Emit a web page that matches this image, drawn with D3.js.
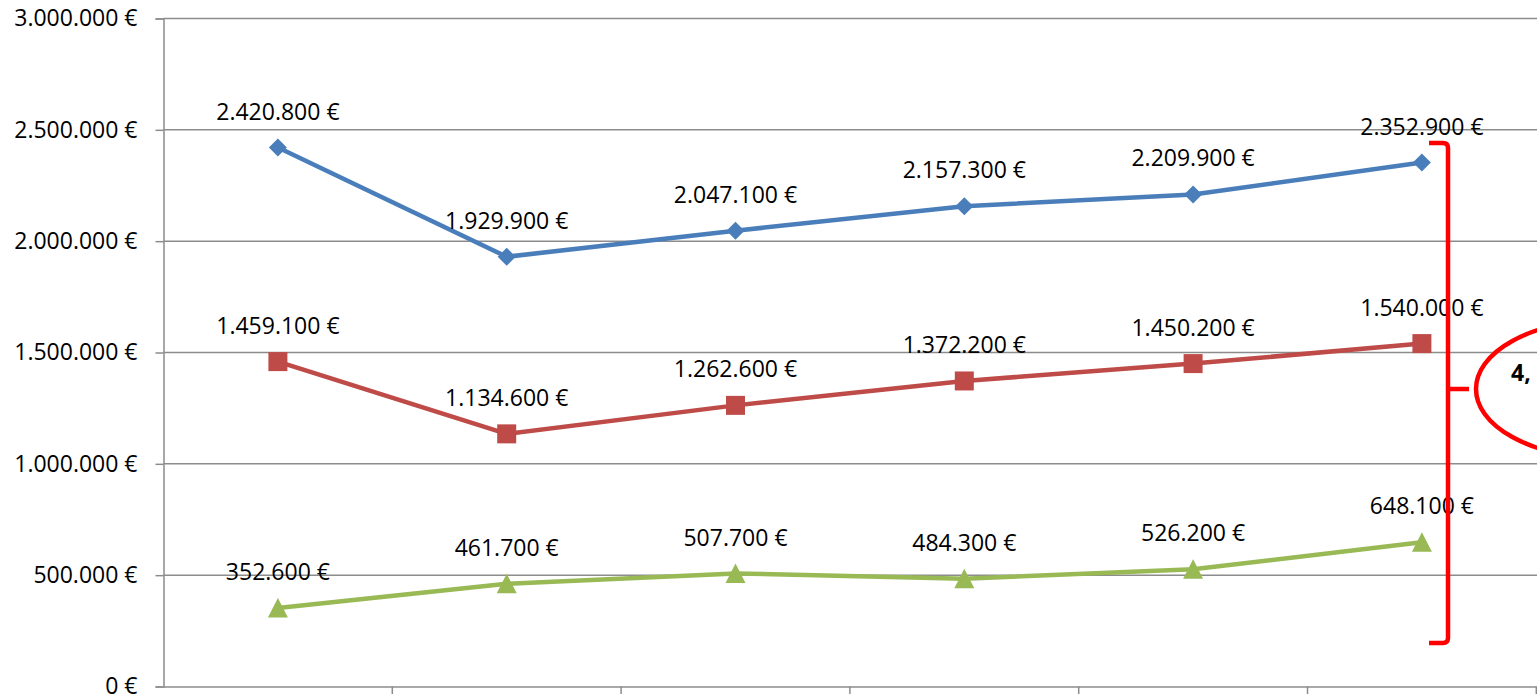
<!DOCTYPE html>
<html lang="de">
<head>
    <meta charset="UTF-8">
    <title>Umsatzentwicklung</title>
    <script src="https://d3js.org/d3.v7.min.js"></script>
    <style>
        body { margin: 0; background: #fff; overflow: hidden; }
        text { font-family: "Open Sans", sans-serif; }
    </style>
</head>
<body>
    <svg id="chart" width="1537" height="694"></svg>
    <script>
        // data
        var categories = ["1", "2", "3", "4", "5", "6"];
        var blueValues  = [2420800, 1929900, 2047100, 2157300, 2209900, 2352900];
        var redValues   = [1459100, 1134600, 1262600, 1372200, 1450200, 1540000];
        var greenValues = [352600, 461700, 507700, 484300, 526200, 648100];
        var yTicks = [0, 500000, 1000000, 1500000, 2000000, 2500000, 3000000];
        var calloutText = "4,";

        var series = [
            { name: "blue",  values: blueValues,  color: "#4A7EBB", marker: "diamond" },
            { name: "red",   values: redValues,   color: "#BE4B48", marker: "square" },
            { name: "green", values: greenValues, color: "#98B954", marker: "triangle" }
        ];

        var de = d3.formatLocale({ decimal: ",", thousands: ".", grouping: [3], currency: ["", " €"] });
        var fmt = function(v) { return de.format(",.0f")(v) + " €"; };

        var svg = d3.select("#chart");

        var x = d3.scaleBand()
            .domain(categories)
            .range([163.5, 1536.3]);

        var y = d3.scaleLinear()
            .domain([0, 3000000])
            .range([686.5, 18.5]);

        var gridColor = "#8C8C8C";

        // horizontal gridlines
        svg.append("g")
            .selectAll("line")
            .data(yTicks.slice(1))
            .enter().append("line")
            .attr("x1", 163.5)
            .attr("x2", 1537)
            .attr("y1", d => y(d))
            .attr("y2", d => y(d))
            .attr("stroke", gridColor)
            .attr("stroke-width", 1.5);

        // y axis
        var yAxis = d3.axisLeft(y)
            .tickValues(yTicks)
            .tickFormat(fmt)
            .tickSize(8)
            .tickPadding(18);
        var gy = svg.append("g")
            .attr("transform", "translate(163.5,0)")
            .call(yAxis);
        gy.select(".domain").attr("stroke", gridColor).attr("stroke-width", 1.5);
        gy.selectAll(".tick line").attr("stroke", gridColor).attr("stroke-width", 1.5);
        gy.selectAll(".tick text")
            .attr("fill", "#000")
            .style("font-size", "23px")
            .style("font-family", "'Open Sans', sans-serif");

        // x axis (labels fall outside the picture)
        var xAxis = d3.axisBottom(x)
            .tickSize(0)
            .tickFormat("");
        var gx = svg.append("g")
            .attr("transform", "translate(0," + y(0) + ")")
            .call(xAxis);
        gx.select(".domain").attr("stroke", gridColor).attr("stroke-width", 1.5);
        gx.selectAll(".tick").remove();
        gx.selectAll("line.sep")
            .data(categories)
            .enter().append("line")
            .attr("class", "sep")
            .attr("x1", d => x(d) + x.bandwidth())
            .attr("x2", d => x(d) + x.bandwidth())
            .attr("y1", 0)
            .attr("y2", 8)
            .attr("stroke", gridColor)
            .attr("stroke-width", 1.5);

        var cx = d => x(d) + x.bandwidth() / 2;

        var line = d3.line()
            .x((d, i) => cx(categories[i]))
            .y(d => y(d));

        series.forEach(function(s) {
            svg.append("path")
                .datum(s.values)
                .attr("d", line)
                .attr("fill", "none")
                .attr("stroke", s.color)
                .attr("stroke-width", 4.5)
                .attr("stroke-linejoin", "round");

            var markerPath;
            if (s.marker === "diamond") markerPath = "M0,-9L9,0L0,9L-9,0Z";
            else if (s.marker === "square") markerPath = "M-9.5,-9.5H9.5V9.5H-9.5Z";
            else markerPath = "M0,-10L10,9.5H-10Z";

            svg.append("g")
                .selectAll("path")
                .data(s.values)
                .enter().append("path")
                .attr("transform", (d, i) => "translate(" + cx(categories[i]) + "," + y(d) + ")")
                .attr("d", markerPath)
                .attr("fill", s.color);
        });

        // data labels
        series.forEach(function(s) {
            svg.append("g")
                .selectAll("text")
                .data(s.values)
                .enter().append("text")
                .attr("x", (d, i) => cx(categories[i]))
                .attr("y", d => y(d) - 36)
                .attr("dy", "0.35em")
                .attr("text-anchor", "middle")
                .style("font-size", "23px")
                .attr("fill", "#000")
                .text(d => fmt(d));
        });

        // red bracket and callout
        var bx = 1448;
        var bTop = 143, bBot = 643, bMid = 389;
        svg.append("path")
            .attr("d", "M1429," + bTop + "H" + (bx - 5) + "Q" + bx + "," + bTop + " " + bx + "," + (bTop + 5) +
                "V" + (bBot - 5) + "Q" + bx + "," + bBot + " " + (bx - 5) + "," + bBot + "H1429" +
                "M" + bx + "," + bMid + "H1469")
            .attr("fill", "none")
            .attr("stroke", "#FF0000")
            .attr("stroke-width", 4.5);

        svg.append("ellipse")
            .attr("cx", 1600)
            .attr("cy", bMid)
            .attr("rx", 124)
            .attr("ry", 68)
            .attr("fill", "none")
            .attr("stroke", "#FF0000")
            .attr("stroke-width", 4.5);

        svg.append("text")
            .attr("x", 1511)
            .attr("y", 373)
            .attr("dy", "0.35em")
            .style("font-size", "23px")
            .style("font-weight", "bold")
            .attr("fill", "#000")
            .text(calloutText);
    </script>
</body>
</html>
